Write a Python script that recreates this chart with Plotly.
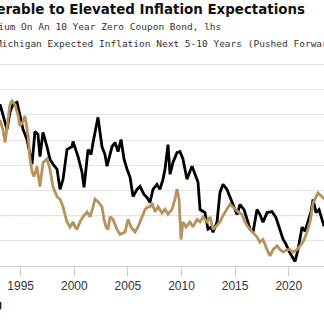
import plotly.graph_objects as go

# Term premium (lhs, %), decimal years
tp_years = [1993.07, 1993.35, 1993.72, 1994.00, 1994.28, 1994.66, 1994.94, 1995.22, 1995.59, 1995.87,
            1996.06, 1996.33, 1996.61, 1996.80, 1997.08, 1997.45, 1997.73, 1998.01, 1998.39, 1998.67,
            1998.95, 1999.32, 1999.79, 1999.88, 2000.35, 2000.72, 2000.91, 2001.28, 2001.56, 2001.75,
            2002.12, 2002.21, 2002.58, 2002.86, 2003.05, 2003.52, 2003.80, 2004.08, 2004.36, 2004.64,
            2004.92, 2005.20, 2005.48, 2005.85, 2006.13, 2006.50, 2006.78, 2007.06, 2007.34, 2007.71,
            2007.99, 2008.27, 2008.46, 2008.74, 2008.93, 2009.21, 2009.58, 2009.86, 2010.14, 2010.51,
            2010.79, 2010.98, 2011.26, 2011.54, 2011.73, 2012.19, 2012.47, 2012.75, 2012.94, 2013.31,
            2013.59, 2013.87, 2014.24, 2014.52, 2014.80, 2015.18, 2015.46, 2015.83, 2016.20, 2016.39,
            2016.67, 2017.04, 2017.32, 2017.60, 2017.98, 2018.44, 2018.81, 2019.19, 2019.47, 2019.75,
            2020.03, 2020.31, 2020.59, 2020.87, 2021.24, 2021.52, 2021.80, 2022.08, 2022.27, 2022.55,
            2022.83, 2023.11, 2023.29]
tp_values = [2.21, 1.97, 1.71, 2.05, 2.21, 2.25, 1.97, 1.71, 1.51, 1.21,
             1.02, 1.67, 1.61, 1.17, 1.65, 1.37, 1.12, 1.02, 0.92, 0.52,
             0.72, 1.31, 1.37, 1.47, 1.17, 0.86, 0.56, 1.31, 1.21, 1.45,
             1.85, 1.95, 1.37, 1.21, 0.98, 1.37, 1.45, 1.27, 1.51, 1.12,
             0.92, 0.76, 0.38, 0.52, 0.58, 0.42, 0.36, 0.26, 0.52, 0.62,
             0.52, 0.72, 0.92, 1.41, 0.82, 1.06, 1.25, 1.27, 1.12, 0.72,
             0.88, 0.98, 0.82, 0.66, 0.12, 0.06, -0.27, -0.23, -0.33, -0.13,
             0.46, 0.62, 0.52, 0.38, 0.22, 0.02, 0.22, 0.12, -0.13, -0.27,
             -0.33, 0.12, 0.02, -0.13, 0.06, 0.08, -0.04, -0.27, -0.47, -0.57,
             -0.71, -0.81, -0.91, -0.67, -0.23, -0.31, -0.12, 0.08, 0.32, 0.06,
             0.12, -0.08, -0.21]

# Michigan expected inflation 5-10y, pushed forward (rhs, %)
mich_years = [1993.07, 1993.35, 1993.54, 1993.82, 1994.00, 1994.19, 1994.47, 1994.75, 1994.94, 1995.22,
              1995.40, 1995.68, 1995.87, 1996.06, 1996.24, 1996.52, 1996.80, 1997.08, 1997.45, 1997.73,
              1998.01, 1998.20, 1998.39, 1998.67, 1998.95, 1999.13, 1999.32, 1999.60, 1999.88, 2000.07,
              2000.25, 2000.53, 2000.81, 2001.19, 2001.47, 2001.75, 2001.93, 2002.21, 2002.58, 2002.77,
              2002.96, 2003.14, 2003.33, 2003.61, 2003.98, 2004.26, 2004.73, 2005.01, 2005.29, 2005.66,
              2005.94, 2006.32, 2006.60, 2006.88, 2007.06, 2007.25, 2007.53, 2007.81, 2008.18, 2008.46,
              2008.74, 2009.11, 2009.39, 2009.58, 2009.77, 2009.95, 2010.14, 2010.42, 2010.79, 2011.07,
              2011.45, 2011.73, 2012.01, 2012.38, 2012.66, 2012.94, 2013.31, 2013.59, 2013.87, 2014.24,
              2014.52, 2014.90, 2015.27, 2015.64, 2015.92, 2016.20, 2016.58, 2017.04, 2017.32, 2017.60,
              2017.98, 2018.26, 2018.54, 2018.91, 2019.19, 2019.47, 2019.84, 2020.12, 2020.40, 2020.77,
              2021.05, 2021.33, 2021.71, 2021.99, 2022.27, 2022.55, 2022.73, 2023.11, 2023.29]
mich_values = [3.56, 3.48, 3.38, 3.59, 3.68, 3.71, 3.68, 3.60, 3.51, 3.55,
               3.59, 3.44, 3.25, 3.15, 3.11, 3.19, 3.03, 3.22, 3.25, 3.17,
               3.03, 2.99, 2.95, 2.93, 2.87, 2.81, 2.75, 2.71, 2.75, 2.71,
               2.69, 2.75, 2.79, 2.83, 2.79, 2.87, 2.93, 2.91, 2.87, 2.77,
               2.71, 2.69, 2.79, 2.77, 2.69, 2.65, 2.67, 2.77, 2.71, 2.67,
               2.71, 2.79, 2.85, 2.87, 2.87, 2.90, 2.83, 2.87, 2.82, 2.85,
               2.81, 2.85, 2.93, 3.01, 2.93, 2.61, 2.75, 2.71, 2.75, 2.71,
               2.77, 2.75, 2.79, 2.75, 2.79, 2.69, 2.72, 2.75, 2.80, 2.85,
               2.89, 2.86, 2.83, 2.81, 2.75, 2.71, 2.67, 2.63, 2.59, 2.61,
               2.53, 2.48, 2.53, 2.56, 2.53, 2.51, 2.53, 2.53, 2.51, 2.53,
               2.56, 2.59, 2.67, 2.75, 2.90, 2.95, 2.98, 2.95, 2.93]

tick_years = [1995, 2000, 2005, 2010, 2015, 2020]
tick_labels = ["1995", "2000", "2005", "2010", "2015", "2020"]
lhs_grid = [-1, -0.5, 0, 0.5, 1, 1.5, 2, 2.5, 3]

title_text = "Term Premium Vulnerable to Elevated Inflation Expectations"
legend1 = "10-Year Term Premium On An 10 Year Zero Coupon Bond, lhs"
legend2 = "University of Michigan Expected Inflation Next 5-10 Years (Pushed Forward 4 Years), rhs"

LHS_RANGE = [-1.0, 3.048]
RHS_RANGE = [2.8 + LHS_RANGE[0] * 0.4, 2.8 + LHS_RANGE[1] * 0.4]

fig = go.Figure()
fig.add_trace(go.Scatter(x=mich_years, y=mich_values, mode="lines", yaxis="y2",
                         line=dict(color="#b8925c", width=2.8), showlegend=False))
fig.add_trace(go.Scatter(x=tp_years, y=tp_values, mode="lines",
                         line=dict(color="#000000", width=2.8), showlegend=False))

fig.add_shape(type="line", xref="paper", x0=0, x1=1, yref="y", y0=0, y1=0,
              line=dict(color="#8a8a8a", width=1, dash="3px,2px"), layer="below")

fig.update_layout(
    width=324, height=324,
    margin=dict(l=0, r=0, t=62, b=58),
    paper_bgcolor="white", plot_bgcolor="white",
    xaxis=dict(range=[1993.07, 2023.29], tickvals=tick_years, ticktext=tick_labels,
               showgrid=False, zeroline=False, showline=True, linecolor="#d0d0d0", linewidth=1,
               ticks="outside", ticklen=9, tickcolor="#c8c8c8", tickwidth=1,
               tickfont=dict(family="Liberation Sans, Arial", size=12, color="#333333")),
    yaxis=dict(range=LHS_RANGE, tickvals=lhs_grid, showticklabels=False, showgrid=True,
               gridcolor="#e3e3e3", gridwidth=1, zeroline=False),
    yaxis2=dict(range=RHS_RANGE, overlaying="y", side="right", showgrid=False,
                showticklabels=False, zeroline=False),
    annotations=[
        dict(text="<b>" + title_text + "</b>", xref="paper", yref="paper", x=307/324, y=(266-9)/204,
             xanchor="right", yanchor="middle", showarrow=False,
             font=dict(family="DejaVu Sans", size=13.4, color="#111111")),
        dict(text=legend1, xref="paper", yref="paper", x=223/324, y=(266-27)/204,
             xanchor="right", yanchor="middle", showarrow=False,
             font=dict(family="DejaVu Sans Mono", size=9.5, color="#333333")),
        dict(text=legend2, xref="paper", yref="paper", x=-86/324, y=(266-43)/204,
             xanchor="left", yanchor="middle", showarrow=False,
             font=dict(family="DejaVu Sans Mono", size=9.5, color="#333333")),
        dict(text="<b>Bloomberg</b>", xref="paper", yref="paper", x=4/324, y=(266-304)/204,
             xanchor="right", yanchor="middle", showarrow=False,
             font=dict(family="Liberation Sans", size=11, color="#111111")),
    ],
)

fig.write_html("out.html")
